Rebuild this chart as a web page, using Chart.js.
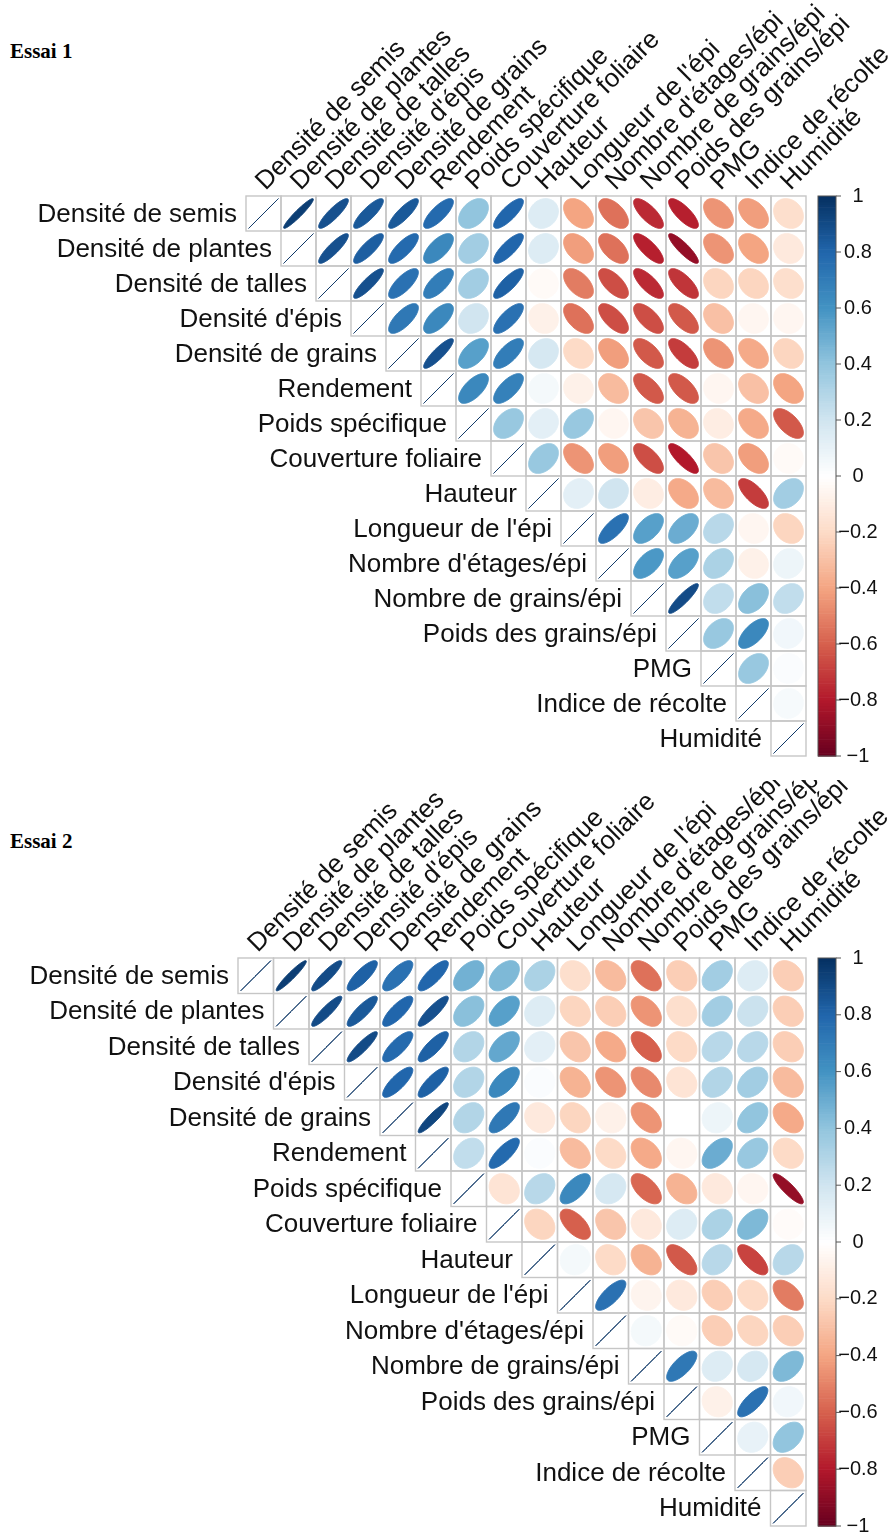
<!DOCTYPE html>
<html>
<head>
<meta charset="utf-8">
<script src="https://cdn.jsdelivr.net/npm/chart.js@4.4.0/dist/chart.umd.min.js"></script>
<style>
    body { margin: 0; background: #fff; width: 894px; height: 1533px; position: relative; overflow: hidden; }
    .title { position: absolute; left: 10px; font: bold 21px "Liberation Serif", serif; color: #000; }
    .box { position: absolute; left: 0; width: 894px; }
</style>
</head>
<body>
<div class="title" style="top:39px">Essai 1</div>
<div class="title" style="top:829px">Essai 2</div>
<div class="box" style="top:0"><canvas id="c1" width="894" height="780"></canvas></div>
<div class="box" style="top:780px"><canvas id="c2" width="894" height="753"></canvas></div>
<script>
const variables = [
    "Densité de semis", "Densité de plantes", "Densité de talles", "Densité d'épis",
    "Densité de grains", "Rendement", "Poids spécifique", "Couverture foliaire",
    "Hauteur", "Longueur de l'épi", "Nombre d'étages/épi", "Nombre de grains/épi",
    "Poids des grains/épi", "PMG", "Indice de récolte", "Humidité"
];

// upper triangle, each row starts on the diagonal
const essai1 = [
    [1, 0.95, 0.88, 0.85, 0.85, 0.78, 0.40, 0.80, 0.15, -0.40, -0.55, -0.75, -0.78, -0.45, -0.42, -0.18],
    [1, 0.88, 0.83, 0.78, 0.65, 0.35, 0.80, 0.15, -0.42, -0.55, -0.78, -0.88, -0.45, -0.40, -0.12],
    [1, 0.88, 0.75, 0.70, 0.35, 0.82, -0.03, -0.52, -0.65, -0.75, -0.72, -0.22, -0.22, -0.18],
    [1, 0.72, 0.65, 0.20, 0.75, -0.08, -0.55, -0.65, -0.65, -0.62, -0.30, -0.05, -0.05],
    [1, 0.88, 0.55, 0.70, 0.18, -0.20, -0.42, -0.62, -0.70, -0.45, -0.38, -0.22],
    [1, 0.65, 0.68, 0.05, -0.08, -0.32, -0.62, -0.62, -0.05, -0.30, -0.40],
    [1, 0.38, 0.12, 0.38, -0.05, -0.28, -0.35, -0.10, -0.38, -0.62],
    [1, 0.38, -0.45, -0.42, -0.65, -0.80, -0.28, -0.42, -0.03],
    [1, 0.12, 0.20, -0.10, -0.38, -0.32, -0.70, 0.35],
    [1, 0.75, 0.55, 0.50, 0.28, -0.05, -0.22],
    [1, 0.58, 0.55, 0.32, -0.08, 0.08],
    [1, 0.90, 0.25, 0.42, 0.25],
    [1, 0.38, 0.65, 0.06],
    [1, 0.38, 0.02],
    [1, 0.04],
    [1]
];

const essai2 = [
    [1, 0.95, 0.90, 0.82, 0.75, 0.80, 0.48, 0.45, 0.32, -0.18, -0.32, -0.55, -0.25, 0.35, 0.15, -0.25],
    [1, 0.90, 0.85, 0.80, 0.88, 0.42, 0.55, 0.15, -0.22, -0.25, -0.45, -0.18, 0.35, 0.22, -0.25],
    [1, 0.90, 0.78, 0.82, 0.30, 0.52, 0.12, -0.28, -0.38, -0.60, -0.20, 0.28, 0.28, -0.25],
    [1, 0.80, 0.82, 0.30, 0.65, 0.02, -0.35, -0.45, -0.48, -0.15, 0.30, 0.35, -0.32],
    [1, 0.92, 0.30, 0.72, -0.12, -0.22, -0.08, -0.45, 0.00, 0.08, 0.40, -0.38],
    [1, 0.25, 0.78, 0.02, -0.32, -0.20, -0.38, -0.05, 0.50, 0.38, -0.20],
    [1, -0.15, 0.28, 0.65, 0.18, -0.58, -0.35, -0.12, -0.05, -0.88],
    [1, -0.22, -0.60, -0.28, -0.12, 0.15, 0.32, 0.45, -0.02],
    [1, 0.05, -0.20, -0.35, -0.62, 0.28, -0.68, 0.28],
    [1, 0.75, -0.06, -0.12, -0.25, -0.20, -0.52],
    [1, 0.05, -0.03, -0.25, -0.22, -0.25],
    [1, 0.72, 0.15, 0.18, 0.45],
    [1, -0.08, 0.75, 0.06],
    [1, 0.10, 0.40],
    [1, -0.25],
    [1]
];

const colorbarTicks = [1, 0.8, 0.6, 0.4, 0.2, 0, -0.2, -0.4, -0.6, -0.8, -1];
const colorbarLabels = ["1", "0.8", "0.6", "0.4", "0.2", "0", "\u22120.2", "\u22120.4", "\u22120.6", "\u22120.8", "\u22121"];

// RdBu as used by corrplot, from -1 to 1
const paletteStops = ["#67001F", "#B2182B", "#D6604D", "#F4A582", "#FDDBC7", "#FFFFFF",
                      "#D1E5F0", "#92C5DE", "#4393C3", "#2166AC", "#053061"];

function hexToRgb(h) {
    return [parseInt(h.slice(1, 3), 16), parseInt(h.slice(3, 5), 16), parseInt(h.slice(5, 7), 16)];
}

function colorFor(v) {
    let t = (Math.max(-1, Math.min(1, v)) + 1) / 2 * (paletteStops.length - 1);
    let i = Math.min(Math.floor(t), paletteStops.length - 2);
    let f = t - i;
    let a = hexToRgb(paletteStops[i]), b = hexToRgb(paletteStops[i + 1]);
    let c = a.map((x, k) => Math.round(x + (b[k] - x) * f));
    return 'rgb(' + c.join(',') + ')';
}

const FONT = '26px "Liberation Sans", Arial, sans-serif';

const corrPlugin = {
    id: 'corr',
    afterDatasetsDraw(chart) {
        const ctx = chart.ctx;
        const xs = chart.scales.x, ys = chart.scales.y, cb = chart.scales.cb;
        const w = Math.abs(xs.getPixelForValue(1) - xs.getPixelForValue(0));
        const h = Math.abs(ys.getPixelForValue(1) - ys.getPixelForValue(0));
        const pts = chart.data.datasets[0].data;
        ctx.save();

        // ellipses
        pts.forEach(p => {
            const cx = xs.getPixelForValue(p.x), cy = ys.getPixelForValue(p.y);
            const a = Math.acos(Math.max(-1, Math.min(1, p.v)));
            const col = colorFor(p.v);
            ctx.beginPath();
            for (let i = 0; i <= 100; i++) {
                const k = i / 100 * 2 * Math.PI;
                const ex = 0.85 * Math.cos(k + a / 2) / 2;
                const ey = 0.85 * Math.cos(k - a / 2) / 2;
                if (i === 0) ctx.moveTo(cx + ex * w, cy - ey * h);
                else ctx.lineTo(cx + ex * w, cy - ey * h);
            }
            ctx.closePath();
            ctx.fillStyle = col;
            ctx.fill();
            ctx.strokeStyle = col;
            ctx.lineWidth = 1;
            ctx.stroke();
        });

        // cell grid
        ctx.strokeStyle = '#c6c6c6';
        ctx.lineWidth = 1.4;
        pts.forEach(p => {
            const cx = xs.getPixelForValue(p.x), cy = ys.getPixelForValue(p.y);
            ctx.strokeRect(cx - w / 2, cy - h / 2, w, h);
        });

        // row labels
        ctx.fillStyle = '#111';
        ctx.font = FONT;
        ctx.textAlign = 'right';
        ctx.textBaseline = 'middle';
        variables.forEach((name, i) => {
            ctx.fillText(name, xs.getPixelForValue(i) - w / 2 - 9, ys.getPixelForValue(i) + 1);
        });

        // column labels, rotated 45 degrees
        ctx.textAlign = 'left';
        ctx.textBaseline = 'alphabetic';
        const top = ys.getPixelForValue(-0.5);
        variables.forEach((name, j) => {
            ctx.save();
            ctx.translate(xs.getPixelForValue(j) + 2, top - 5);
            ctx.rotate(-Math.PI / 4);
            ctx.fillText(name, 0, 0);
            ctx.restore();
        });

        // colour bar
        const bx = 818, bw = 18;
        const n = 200;
        for (let i = 0; i < n; i++) {
            const v0 = -1 + 2 * i / n, v1 = -1 + 2 * (i + 1) / n;
            const y0 = cb.getPixelForValue(v0), y1 = cb.getPixelForValue(v1);
            ctx.fillStyle = colorFor((v0 + v1) / 2);
            ctx.fillRect(bx, y1, bw, y0 - y1 + 0.6);
        }
        ctx.strokeStyle = '#555';
        ctx.lineWidth = 1;
        ctx.strokeRect(bx, cb.getPixelForValue(1), bw, cb.getPixelForValue(-1) - cb.getPixelForValue(1));

        ctx.font = '20px "Liberation Sans", Arial, sans-serif';
        ctx.textAlign = 'center';
        ctx.textBaseline = 'middle';
        ctx.fillStyle = '#111';
        colorbarTicks.forEach((t, i) => {
            const y = cb.getPixelForValue(t);
            ctx.beginPath();
            ctx.moveTo(bx + bw, y);
            ctx.lineTo(bx + bw + 5, y);
            ctx.stroke();
            ctx.fillText(colorbarLabels[i], 858, y);
        });
        ctx.restore();
    }
};

function makeChart(id, rows, pad) {
    const points = [];
    rows.forEach((row, i) => {
        row.forEach((v, k) => points.push({ x: i + k, y: i, v: v }));
    });
    return new Chart(document.getElementById(id), {
        type: 'scatter',
        data: { datasets: [{ data: points, pointRadius: 0 }] },
        options: {
            responsive: false,
            animation: false,
            events: [],
            layout: { padding: pad },
            plugins: { legend: { display: false }, tooltip: { enabled: false }, title: { display: false } },
            scales: {
                x: { type: 'linear', min: -0.5, max: 15.5, display: false },
                y: { type: 'linear', min: -0.5, max: 15.5, reverse: true, display: false },
                cb: { type: 'linear', axis: 'y', min: -1, max: 1, display: false }
            }
        },
        plugins: [corrPlugin]
    });
}

makeChart('c1', essai1, { left: 246, right: 88, top: 196, bottom: 24 });
makeChart('c2', essai2, { left: 238, right: 88, top: 178, bottom: 7 });
</script>
</body>
</html>
